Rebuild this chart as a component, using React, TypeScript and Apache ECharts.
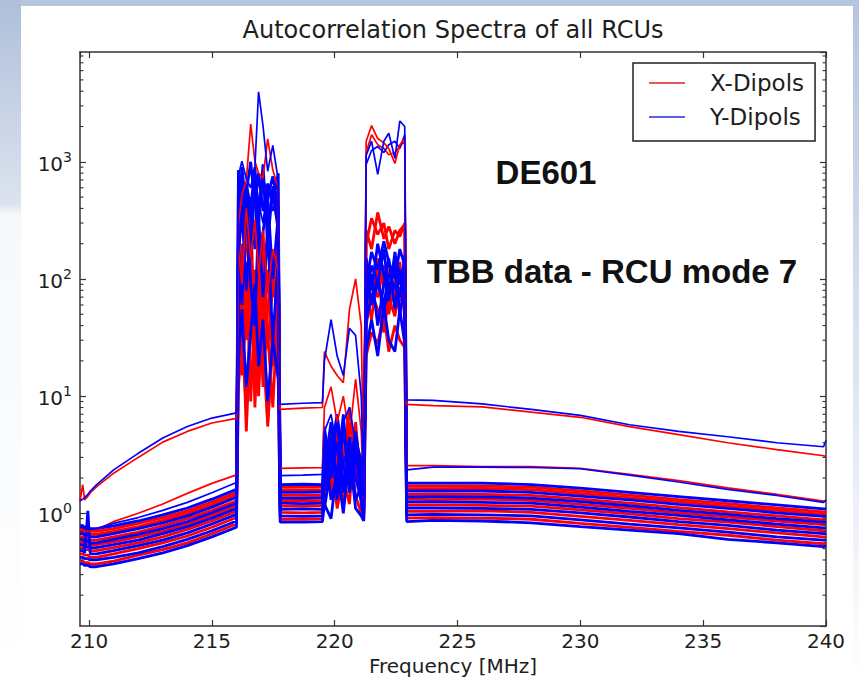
import React, { useEffect, useRef } from "react";
import * as echarts from "echarts";

// Frequency grid (MHz) shared by all spectra
const FREQ = [
  209.63, 209.74, 209.82, 209.95, 210.05, 210.3, 211, 212, 213, 214, 215, 216.0,
  216.08, 216.22, 216.4, 216.58, 216.75, 216.9, 217.08, 217.27, 217.48, 217.7,
  217.78, 218.7, 219.5,
  219.58, 219.85, 220.1, 220.35, 220.6, 220.85, 221.08,
  221.18,
  221.28, 221.5, 221.75, 222.0, 222.2, 222.45, 222.65, 222.85,
  222.93, 224, 226, 228, 230, 232, 234, 236, 238, 239.9, 240,
];

// X-Dipols (red)
const X1 = [.39,.39,.38,.38,.37,.37,.39,.44,.49,.56,.67,.81, 12,30,8,55,18,90,25,6,35,15, .89,.89,.90, 1.5,3.0,1.1,2.2,4.0,1.4,1.0, .88, 22,35,28,50,24,40,30,26, .91,.92,.91,.89,.82,.76,.7,.65,.59,.55,.56];
const X2 = [.45,.45,.44,.44,.42,.42,.45,.50,.56,.64,.76,.92, 80,25,140,9,60,20,110,35,8,70, 1.02,1.01,1.02, 3.5,1.4,5.0,2.0,1.2,6.0,1.5, .95, 80,45,130,38,95,60,140,45, 1.04,1.04,1.05,1.02,.94,.87,.8,.74,.68,.63,.63];
const X3 = [.51,.51,.49,.49,.48,.48,.51,.56,.63,.73,.86,1.04, 150,45,280,70,20,130,12,55,160,30, 1.15,1.15,1.16, 2.8,1.6,3.5,1.2,2.5,4.2,1.6, 1.05, 260,180,370,220,280,200,260,290, 1.18,1.18,1.17,1.15,1.07,.99,.9,.84,.77,.71,.71];
const X4 = [.57,.57,.55,.55,.54,.54,.57,.63,.70,.81,.96,1.16, 35,200,60,380,25,90,45,300,70,120, 1.28,1.29,1.28, 1.3,5.0,2.0,3.0,8.0,2.5,1.4, 1.15, 40,75,55,35,70,48,85,60, 1.32,1.31,1.32,1.29,1.19,1.1,1.01,.93,.86,.8,.8];
const X5 = [.63,.63,.61,.61,.59,.59,.63,.69,.78,.90,1.06,1.28, 100,15,50,160,8,40,250,25,90,200, 1.42,1.42,1.42, 1.8,2.2,4.5,1.6,6.0,3.0,1.8, 1.25, 200,330,240,300,180,260,230,300, 1.45,1.46,1.45,1.42,1.32,1.22,1.12,1.03,.95,.88,.88];
const X6 = [.70,.70,.68,.68,.66,.66,.70,.77,.87,1.00,1.19,1.44, 20,70,5,40,120,10,60,5.5,28,80, 1.59,1.58,1.59, 3.2,1.9,2.6,4.8,2.0,3.6,2.0, 1.35, 55,90,70,130,50,100,65,80, 1.63,1.62,1.63,1.59,1.47,1.36,1.25,1.15,1.06,.98,.98];
const X7 = [.74,.74,.72,.72,.70,.70,.74,.82,.92,1.05,1.25,1.51, 60,150,30,90,14,200,40,120,18,50, 1.67,1.67,1.68, 2.5,3.8,1.8,5.5,2.8,2.0,2.3, 1.4, 100,60,150,85,120,70,105,75, 1.71,1.71,1.71,1.67,1.55,1.43,1.31,1.21,1.11,1.03,1.03];
const X8 = [1.25,1.76,1.3,1.4,1.5,1.68,2.2,3.0,4.05,5.0,5.9,6.45, 300,520,690,2100,1010,800,725,1570,850,600, 7.7,7.9,8.0, 24,18,15,13,55,100,40, 1.6, 1500,2040,1580,1450,1300,970,1400,1580, 8.5,8.3,8.1,7.3,6.6,5.5,4.7,4.0,3.5,3.1,3.05];
const X9 = [.72,.72,.70,.70,.70,.72,.85,1.0,1.2,1.48,1.8,2.13, 180,90,400,150,320,110,260,75,180,120, 2.42,2.44,2.45, 8,12,6,10,4.5,14,5, 1.2, 1200,1700,1400,1300,1150,1200,1350,1500, 2.55,2.55,2.5,2.5,2.42,2.15,1.9,1.65,1.45,1.27,1.27];

// Y-Dipols (blue)
const Y1 = [.37,.37,.36,.36,.35,.35,.37,.41,.46,.53,.63,.76, 20,55,12,35,90,18,45,9,30,14, .84,.84,.85, 1.2,.9,2.5,1.0,3.2,1.1,.95, .86, 25,45,22,60,30,24,55,28, .85,.87,.86,.83,.77,.72,.67,.6,.56,.52,.53];
const Y2 = [.42,.42,.41,.41,.40,.40,.42,.46,.52,.60,.71,.86, 300,650,250,500,180,420,700,280,550,260, .95,.94,.95, 2.0,4.5,1.3,5.5,1.8,3.8,1.2, .9, 60,110,40,90,150,55,120,70, .97,.98,.97,.95,.88,.81,.75,.69,.63,.59,.59];
const Y3 = [.48,.48,.46,1.05,.45,.45,.48,.53,.59,.68,.81,.98, 200,60,500,90,40,350,70,250,30,150, 1.08,1.09,1.08, 1.1,2.5,6.5,1.6,4.5,2.0,1.3, 1.0, 150,80,200,110,65,170,90,140, 1.11,1.11,1.1,1.08,1.01,.93,.85,.79,.72,.67,.67];
const Y4 = [.54,.54,.52,.52,.51,.51,.54,.59,.67,.77,.91,1.10, 250,900,400,150,700,300,950,200,620,340, 1.22,1.21,1.22, 4.0,1.3,2.2,7.0,1.5,3.0,2.0, 1.1, 90,170,120,210,140,100,180,130, 1.25,1.25,1.24,1.22,1.13,1.04,.96,.88,.81,.75,.75];
const Y5 = [.60,.60,.58,.58,.56,.56,.60,.66,.74,.85,1.01,1.22, 700,350,550,1000,420,800,380,650,450,800, 1.35,1.35,1.36, 2.4,6.0,1.5,2.8,3.5,1.3,1.7, 1.2, 120,60,90,180,75,150,110,95, 1.38,1.39,1.38,1.35,1.26,1.16,1.06,.98,.9,.84,.84];
const Y6 = [.67,.67,.65,.65,.63,.63,.67,.74,.83,.95,1.13,1.37, 150,400,80,300,600,120,250,500,100,350, 1.51,1.51,1.52, 5.5,2.0,4.0,1.5,2.4,5.0,2.2, 1.3, 70,130,95,60,110,85,70,160, 1.55,1.55,1.55,1.51,1.4,1.3,1.19,1.1,1.01,.94,.94];
const Y7 = [.78,.78,.76,.76,.74,.74,.78,.86,.97,1.11,1.32,1.60, 850,300,650,400,900,350,700,500,750,400, 1.76,1.77,1.76, 1.6,3.3,7.0,2.5,1.8,4.5,2.6, 1.45, 45,70,100,55,80,130,50,90, 1.81,1.81,1.81,1.76,1.64,1.51,1.39,1.28,1.18,1.09,1.09];
const Y8 = [1.28,1.32,1.36,1.45,1.55,1.75,2.35,3.25,4.4,5.5,6.5,7.2, 760,1010,720,600,900,3960,2030,830,1380,700, 8.5,8.7,8.8, 20,45,22,15,38,33,10, 1.5, 1130,1500,780,1500,1750,1070,2230,2000, 9.3,9.2,8.6,7.7,6.85,5.7,5.0,4.5,4.0,3.7,4.2];
const Y9 = [.76,.76,.74,.74,.73,.74,.82,.92,1.06,1.24,1.5,1.83, 500,250,600,330,780,450,300,650,380,550, 2.1,2.12,2.15, 5,7,3.5,6,8,4,3, 1.1, 950,1250,1350,1200,1400,1500,1300,1700, 2.35,2.48,2.48,2.46,2.4,2.12,1.85,1.6,1.42,1.24,1.3];

// bulk spectra, then the two brighter RCU pairs
const X_BULK = [X1, X2, X3, X4, X5, X6, X7];
const Y_BULK = [Y1, Y2, Y3, Y4, Y5, Y6, Y7];
const X_BRIGHT = [X9, X8];
const Y_BRIGHT = [Y9, Y8];

const LEGEND_NAMES = ["X-Dipols", "Y-Dipols"];
const MINOR_TICKS = [
  0.2, 0.3, 0.4, 0.5, 0.6, 0.7, 0.8, 0.9,
  2, 3, 4, 5, 6, 7, 8, 9,
  20, 30, 40, 50, 60, 70, 80, 90,
  200, 300, 400, 500, 600, 700, 800, 900,
  2000, 3000, 4000, 5000, 6000, 7000, 8000,
];

const X_MIN = 209.63;
const X_MAX = 240;
const Y_MIN = 0.109;
const Y_MAX = 8650;

const FONT = "'DejaVu Sans', 'Bitstream Vera Sans', sans-serif";
const INK = "#1e1e1e";
const RED = "#ff0000";
const BLUE = "#0000ff";

function lineOf(name: string, values: number[], color: string, width: number) {
  return {
    type: "line",
    name,
    data: FREQ.map((f, k) => [f, values[k]]),
    showSymbol: false,
    symbol: "none",
    silent: true,
    lineStyle: { color, width },
    itemStyle: { color },
    emphasis: { disabled: true },
    z: 2,
  };
}

export default function App() {
  const ref = useRef<HTMLDivElement>(null);

  useEffect(() => {
    if (!ref.current) return;
    const chart = echarts.init(ref.current, undefined, { renderer: "svg" });

    const lineSeries: any[] = [];
    X_BULK.forEach((v) => lineSeries.push(lineOf(LEGEND_NAMES[0], v, RED, 2.8)));
    Y_BULK.forEach((v) => lineSeries.push(lineOf(LEGEND_NAMES[1], v, BLUE, 2.8)));
    for (let i = 0; i < X_BRIGHT.length; i++) {
      lineSeries.push(lineOf(LEGEND_NAMES[0], X_BRIGHT[i], RED, 1.7));
      lineSeries.push(lineOf(LEGEND_NAMES[1], Y_BRIGHT[i], BLUE, 1.7));
    }

    const minorTickSeries = {
      type: "custom",
      silent: true,
      clip: false,
      z: 4,
      data: MINOR_TICKS.map((v) => [X_MIN, v]),
      renderItem: (params: any, api: any) => {
        const y = api.coord([X_MIN, api.value(1)])[1];
        const cs = params.coordSys;
        const st = { stroke: "#333", lineWidth: 1.1 };
        return {
          type: "group",
          children: [
            { type: "line", shape: { x1: cs.x, y1: y, x2: cs.x + 3.5, y2: y }, style: st },
            { type: "line", shape: { x1: cs.x + cs.width - 3.5, y1: y, x2: cs.x + cs.width, y2: y }, style: st },
          ],
        };
      },
    };

    const axisLineStyle = { show: true, lineStyle: { color: "#333", width: 1.5 } };
    const majorTick = { show: true, inside: true, length: 6, lineStyle: { color: "#333", width: 1.2 } };

    const option: any = {
      animation: false,
      backgroundColor: "#ffffff",
      title: {
        text: "Autocorrelation Spectra of all RCUs",
        left: 453,
        top: 18,
        textAlign: "center",
        padding: 0,
        textStyle: { fontFamily: FONT, fontSize: 24, fontWeight: "normal", color: INK },
      },
      legend: {
        left: 633,
        top: 63,
        orient: "vertical",
        padding: [8, 11, 12, 16],
        itemWidth: 36,
        itemHeight: 2,
        itemGap: 10,
        icon: "rect",
        borderColor: "#222",
        borderWidth: 1.5,
        borderRadius: 0,
        backgroundColor: "#ffffff",
        selectedMode: false,
        textStyle: { fontFamily: FONT, fontSize: 23, color: INK, lineHeight: 24, padding: [0, 0, 0, 20] },
        data: [
          { name: LEGEND_NAMES[0], itemStyle: { color: "#e35a5a" } },
          { name: LEGEND_NAMES[1], itemStyle: { color: "#5f5fe6" } },
        ],
      },
      grid: { left: 80, top: 52, width: 746, height: 581, containLabel: false },
      xAxis: [
        {
          type: "value",
          position: "bottom",
          min: X_MIN,
          max: X_MAX,
          axisLine: axisLineStyle,
          axisTick: majorTick,
          splitLine: { show: false },
          axisLabel: {
            show: true,
            showMinLabel: false,
            margin: 5,
            fontFamily: FONT,
            fontSize: 20,
            color: INK,
          },
          name: "Frequency [MHz]",
          nameLocation: "middle",
          nameGap: 26,
          nameTextStyle: { fontFamily: FONT, fontSize: 20, color: INK },
        },
        {
          type: "value",
          position: "top",
          min: X_MIN,
          max: X_MAX,
          axisLine: axisLineStyle,
          axisTick: majorTick,
          splitLine: { show: false },
          axisLabel: { show: false },
        },
      ],
      yAxis: [
        {
          type: "log",
          logBase: 10,
          position: "left",
          min: Y_MIN,
          max: Y_MAX,
          axisLine: axisLineStyle,
          axisTick: majorTick,
          splitLine: { show: false },
          axisLabel: {
            show: true,
            showMinLabel: false,
            showMaxLabel: false,
            margin: 8,
            formatter: (v: number) => {
              const e = Math.round(Math.log10(v));
              return `{b|10}{s|${e}}`;
            },
            rich: {
              b: { fontFamily: FONT, fontSize: 20, color: INK, lineHeight: 24, verticalAlign: "bottom" },
              s: { fontFamily: FONT, fontSize: 14, color: INK, lineHeight: 14, verticalAlign: "top" },
            },
          },
        },
        {
          type: "log",
          logBase: 10,
          position: "right",
          min: Y_MIN,
          max: Y_MAX,
          axisLine: axisLineStyle,
          axisTick: majorTick,
          splitLine: { show: false },
          axisLabel: { show: false },
        },
      ],
      graphic: [
        { type: "rect", z: -10, silent: true, shape: { x: 0, y: 0, width: 859, height: 6 }, style: { fill: "#b6c4de" } },
        {
          type: "rect", z: -10, silent: true,
          shape: { x: 0, y: 0, width: 21, height: 681 },
          style: {
            fill: new echarts.graphic.LinearGradient(0, 0, 0, 1, [
              { offset: 0, color: "#afbfda" },
              { offset: 0.3, color: "#dce3ef" },
              { offset: 0.315, color: "#f6f8fb" },
              { offset: 1, color: "#ffffff" },
            ]),
          },
        },
        {
          type: "rect", z: -10, silent: true,
          shape: { x: 853, y: 0, width: 6, height: 681 },
          style: {
            fill: new echarts.graphic.LinearGradient(0, 0, 0, 1, [
              { offset: 0, color: "#b6c4de" },
              { offset: 0.6, color: "#e2e8f2" },
              { offset: 1, color: "#ffffff" },
            ]),
          },
        },
        {
          type: "text", z: 10, x: 546, y: 172,
          style: {
            text: "DE601", fontFamily: "'Liberation Sans', Arial, sans-serif", fontWeight: "bold", fontSize: 33,
            fill: "#111", align: "center", verticalAlign: "middle", textAlign: "center", textVerticalAlign: "middle",
          },
        },
        {
          type: "text", z: 10, x: 612, y: 271,
          style: {
            text: "TBB data - RCU mode 7", fontFamily: "'Liberation Sans', Arial, sans-serif", fontWeight: "bold", fontSize: 33,
            fill: "#111", align: "center", verticalAlign: "middle", textAlign: "center", textVerticalAlign: "middle",
          },
        },
      ],
      series: [...lineSeries, minorTickSeries],
    };

    chart.setOption(option);
    return () => chart.dispose();
  }, []);

  return (
    <div
      ref={ref}
      style={{ position: "fixed", left: 0, top: 0, width: 859, height: 681, background: "#fff" }}
    />
  );
}
